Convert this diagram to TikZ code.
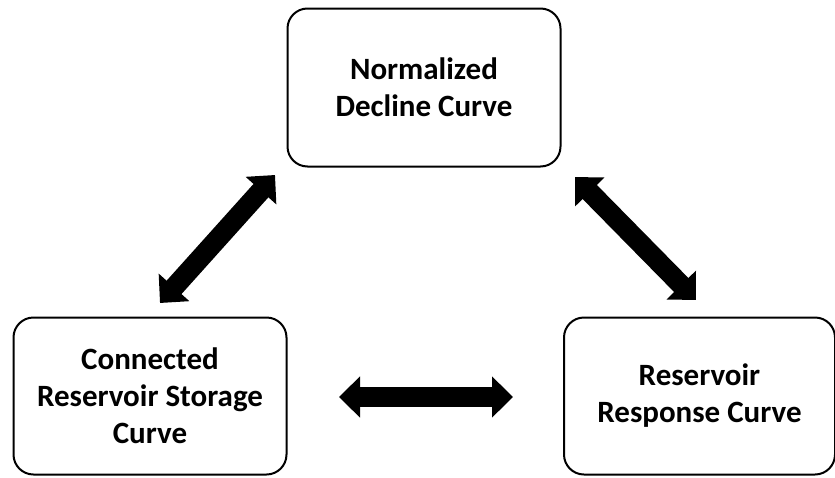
\documentclass[tikz,border=0pt]{standalone}
\usepackage{fontspec}
\setmainfont{Carlito}
\usetikzlibrary{arrows.meta}
\tikzset{
  curvebox/.style={draw=black, line width=2pt, rounded corners=20pt,
    align=center, font=\fontsize{31}{37}\selectfont\bfseries,
    inner sep=0pt},
  blockarrow/.style={line width=20pt, black,
    {Triangle[width=40pt,length=21pt]}-{Triangle[width=40pt,length=21pt]}}
}
\begin{document}
\begin{tikzpicture}[x=1pt,y=-1pt]
  \useasboundingbox (0,0) rectangle (835,477);
  % the three curve boxes
  \node[curvebox, minimum width=273pt, minimum height=158pt] (ndc) at (424,87.5)
    {Normalized\\Decline Curve};
  \node[curvebox, minimum width=273pt, minimum height=157pt] (crs) at (150,396)
    {Connected\\Reservoir Storage\\Curve};
  \node[curvebox, minimum width=271pt, minimum height=157pt] (rrc) at (699.5,396)
    {Reservoir\\Response Curve};
  % arrow end points near each box
  \coordinate (crs-ndc) at (160,303);
  \coordinate (ndc-crs) at (275,175);
  \coordinate (ndc-rrc) at (575,177);
  \coordinate (rrc-ndc) at (696,300);
  \coordinate (crs-rrc) at (339,397);
  \coordinate (rrc-crs) at (513,397);
  % two-way links between the curves
  \draw[blockarrow] (crs-ndc) -- (ndc-crs);
  \draw[blockarrow] (ndc-rrc) -- (rrc-ndc);
  \draw[blockarrow] (crs-rrc) -- (rrc-crs);
\end{tikzpicture}
\end{document}
